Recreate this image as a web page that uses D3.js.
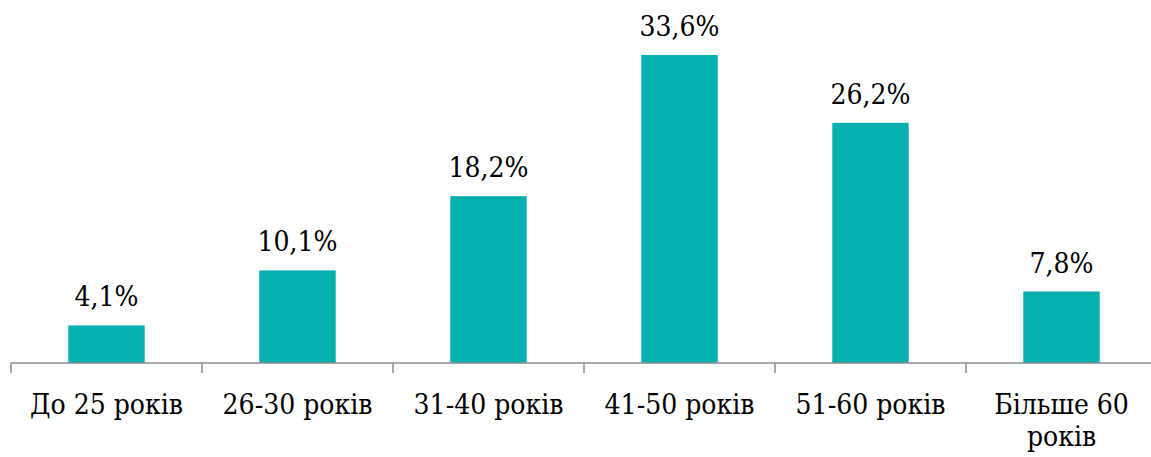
<!DOCTYPE html>
<html>
<head>
<meta charset="utf-8">
<script src="https://cdn.jsdelivr.net/npm/d3@7"></script>
<style>
  body { margin: 0; background: #fff; }
</style>
</head>
<body>
<div id="chart"></div>
<script>
// age groups and share of respondents, %
var categories = ["До 25 років", "26-30 років", "31-40 років", "41-50 років", "51-60 років", "Більше 60 років"];
var values = [4.1, 10.1, 18.2, 33.6, 26.2, 7.8];
var valueLabels = ["4,1%", "10,1%", "18,2%", "33,6%", "26,2%", "7,8%"];
// two-line labels where Excel wrapped them
var labelLines = [["До 25 років"], ["26-30 років"], ["31-40 років"], ["41-50 років"], ["51-60 років"], ["Більше 60", "років"]];

var width = 1151, height = 457;
var left = 11, right = 1157, baseY = 363;
var font = "'DejaVu Serif Condensed', 'DejaVu Serif', serif";

var svg = d3.select("#chart").append("svg")
    .attr("width", width)
    .attr("height", height)
    .style("font-family", font)
    .style("font-stretch", "condensed");

var x = d3.scaleBand()
    .domain(categories)
    .range([left, right])
    .paddingInner(0.6)
    .paddingOuter(0.3);

var y = d3.scaleLinear()
    .domain([0, 33.6])
    .range([baseY, 55]);

svg.selectAll(".bar")
    .data(values)
    .enter().append("rect")
    .attr("class", "bar")
    .attr("x", function(d, i) { return x(categories[i]); })
    .attr("y", function(d) { return y(d); })
    .attr("width", x.bandwidth())
    .attr("height", function(d) { return baseY - y(d); })
    .style("fill", "#07B0B0");

svg.selectAll(".val")
    .data(values)
    .enter().append("text")
    .attr("class", "val")
    .attr("x", function(d, i) { return x(categories[i]) + x.bandwidth() / 2; })
    .attr("y", function(d) { return y(d) - 19; })
    .attr("text-anchor", "middle")
    .style("font-size", "28px")
    .text(function(d, i) { return valueLabels[i]; });

// axis line with ticks at category boundaries
var step = (right - left) / categories.length;
svg.append("line")
    .attr("x1", left).attr("x2", width)
    .attr("y1", baseY).attr("y2", baseY)
    .style("stroke", "#8c8c8c")
    .style("stroke-width", 1.5);

svg.selectAll(".tick")
    .data(d3.range(categories.length + 1))
    .enter().append("line")
    .attr("class", "tick")
    .attr("x1", function(i) { return left + i * step; })
    .attr("x2", function(i) { return left + i * step; })
    .attr("y1", baseY)
    .attr("y2", baseY + 10)
    .style("stroke", "#8c8c8c")
    .style("stroke-width", 1.5);

var labels = svg.selectAll(".cat")
    .data(labelLines)
    .enter().append("text")
    .attr("class", "cat")
    .attr("text-anchor", "middle")
    .style("font-size", "28px")
    .attr("transform", function(d, i) {
        return "translate(" + (x(categories[i]) + x.bandwidth() / 2) + "," + 414 + ")";
    });

labels.selectAll("tspan")
    .data(function(d) { return d; })
    .enter().append("tspan")
    .attr("x", 0)
    .attr("y", function(d, j) { return j * 32; })
    .text(function(d) { return d; });
</script>
</body>
</html>
